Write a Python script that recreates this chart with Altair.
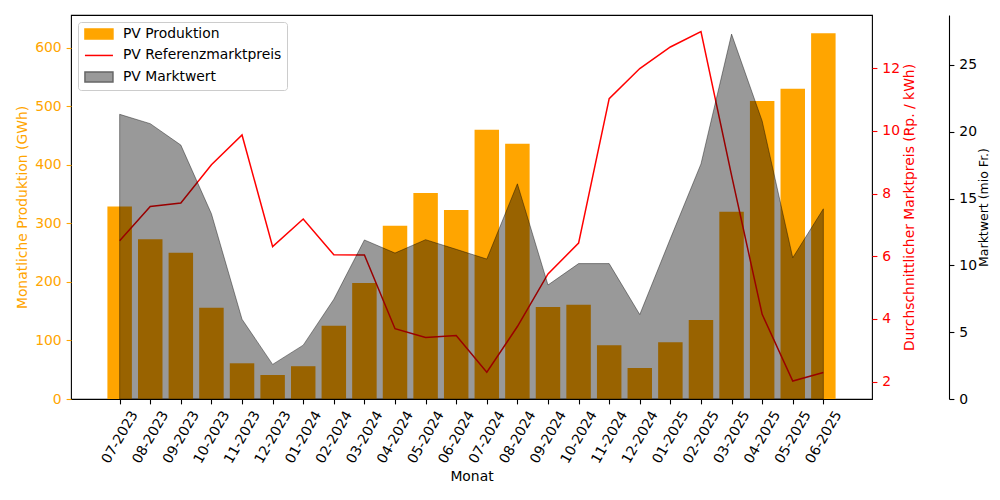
import json
import altair as alt
import pandas as pd

months = ["07-2023", "08-2023", "09-2023", "10-2023", "11-2023", "12-2023",
          "01-2024", "02-2024", "03-2024", "04-2024", "05-2024", "06-2024",
          "07-2024", "08-2024", "09-2024", "10-2024", "11-2024", "12-2024",
          "01-2025", "02-2025", "03-2025", "04-2025", "05-2025", "06-2025"]
production = [329, 273, 250, 156, 61, 41, 56, 125, 198, 296, 352, 323,
              460, 436, 157, 161, 92, 53, 97, 135, 320, 509, 530, 625]
price = [6.50, 7.59, 7.70, 8.92, 9.87, 6.31, 7.19, 6.05, 6.04, 3.69, 3.41, 3.47,
         2.30, 3.76, 5.44, 6.42, 11.03, 11.99, 12.68, 13.17, 8.58, 4.15, 2.02, 2.29]
marktwert = [21.3, 20.6, 19.0, 13.86, 5.97, 2.59, 4.03, 7.46, 11.9, 10.92, 11.92, 11.2,
             10.47, 16.1, 8.53, 10.13, 10.13, 6.32, 12.0, 17.59, 27.3, 20.8, 10.57, 14.23]
series = ["PV Produktion", "PV Referenzmarktpreis", "PV Marktwert"]

prod_ticks = [0, 100, 200, 300, 400, 500, 600]
price_ticks = [2, 4, 6, 8, 10, 12]
wert_ticks = [0, 5, 10, 15, 20, 25]

df = pd.DataFrame({"idx": list(range(len(months))), "Monat": months,
                   "Produktion": production, "Preis": price,
                   "Marktwert": marktwert})
legend_df = pd.DataFrame({"Serie": series})

ORANGE = "#FFA500"
RED = "#FF0000"
FONT = "DejaVu Sans"
FS = 13.9

n = len(months)
xscale = alt.Scale(domain=[-1.59, n - 1 + 1.59], nice=False, zero=False)
xaxis = alt.Axis(values=list(range(n)),
                 labelExpr=json.dumps(months) + "[datum.value]",
                 labelAngle=300, labelAlign="center", labelBaseline="middle",
                 labelPadding=33, labelOverlap=False, titlePadding=4,
                 tickColor="black", labelColor="black", domain=False)

base = alt.Chart(df)

bars = base.transform_calculate(
    x0="datum.idx - 0.4", x1="datum.idx + 0.4"
).mark_bar(color=ORANGE).encode(
    x=alt.X("x0:Q", scale=xscale, axis=xaxis, title="Monat"),
    x2="x1:Q",
    y=alt.Y("Produktion:Q",
            scale=alt.Scale(domain=[0, 656], nice=False, zero=True),
            axis=alt.Axis(orient="left", values=prod_ticks, domain=False,
                          labelColor=ORANGE, tickColor=ORANGE, titleColor=ORANGE,
                          titlePadding=5),
            title="Monatliche Produktion (GWh)"),
    y2=alt.datum(0),
)

line = base.mark_line(color=RED, strokeWidth=1.5).encode(
    x=alt.X("idx:Q", scale=xscale, axis=xaxis, title="Monat"),
    y=alt.Y("Preis:Q",
            scale=alt.Scale(domain=[1.447, 13.70], nice=False, zero=False),
            axis=alt.Axis(orient="right", values=price_ticks, domain=False,
                          labelColor=RED, tickColor=RED, titleColor=RED,
                          titleAngle=270, titleBaseline="top", titlePadding=3),
            title="Durchschnittlicher Marktpreis (Rp. / kWh)"),
)

area = base.mark_area(fill="black", fillOpacity=0.4, stroke="black",
                      strokeOpacity=0.4, strokeWidth=1).encode(
    x=alt.X("idx:Q", scale=xscale, axis=xaxis, title="Monat"),
    y=alt.Y("Marktwert:Q",
            scale=alt.Scale(domain=[0, 28.73], nice=False, zero=True),
            axis=alt.Axis(orient="right", offset=77, values=wert_ticks, domain=True,
                          domainColor="black", labelColor="black", tickColor="black",
                          titleColor="black", titleAngle=270, titleBaseline="top",
                          titlePadding=1, titleFontSize=12.5),
            title="Marktwert (mio Fr.)"),
)

rect_path = "M-1,-1H4.6V1H-1Z"
line_path = "M-1,0H4.6"
leg = alt.Legend(title=None, orient="top-left", offset=7, padding=5,
                 strokeColor="#cccccc", fillColor="rgba(255,255,255,0.8)",
                 cornerRadius=3, labelFont=FONT, labelFontSize=FS,
                 labelColor="black", symbolSize=100, symbolStrokeWidth=1.5,
                 rowPadding=5.5, labelOffset=26)

legend_layer = alt.Chart(legend_df).transform_filter("false").mark_point(
    filled=True, opacity=1).encode(
    fill=alt.Fill("Serie:N", scale=alt.Scale(domain=series,
                  range=[ORANGE, RED, "#999999"]), legend=leg),
    stroke=alt.Stroke("Serie:N", scale=alt.Scale(domain=series,
                      range=[ORANGE, RED, "#666666"]), legend=leg),
    shape=alt.Shape("Serie:N", scale=alt.Scale(domain=series,
                    range=[rect_path, line_path, rect_path]), legend=leg),
)

chart = alt.layer(bars, line, area, legend_layer).resolve_scale(
    y="independent"
).properties(
    width=801, height=384,
    padding={"left": 63, "top": 7, "right": 120, "bottom": 92},
    autosize="none",
).configure_view(
    stroke="black", strokeWidth=1.1
).configure_axis(
    labelFont=FONT, titleFont=FONT, labelFontSize=FS, titleFontSize=FS,
    titleFontWeight="normal", tickSize=4.9, tickWidth=1.1, labelPadding=4.9,
    grid=False, domainWidth=1.1
)

chart.save("out.html", embed_options={"renderer": "svg", "actions": False})
